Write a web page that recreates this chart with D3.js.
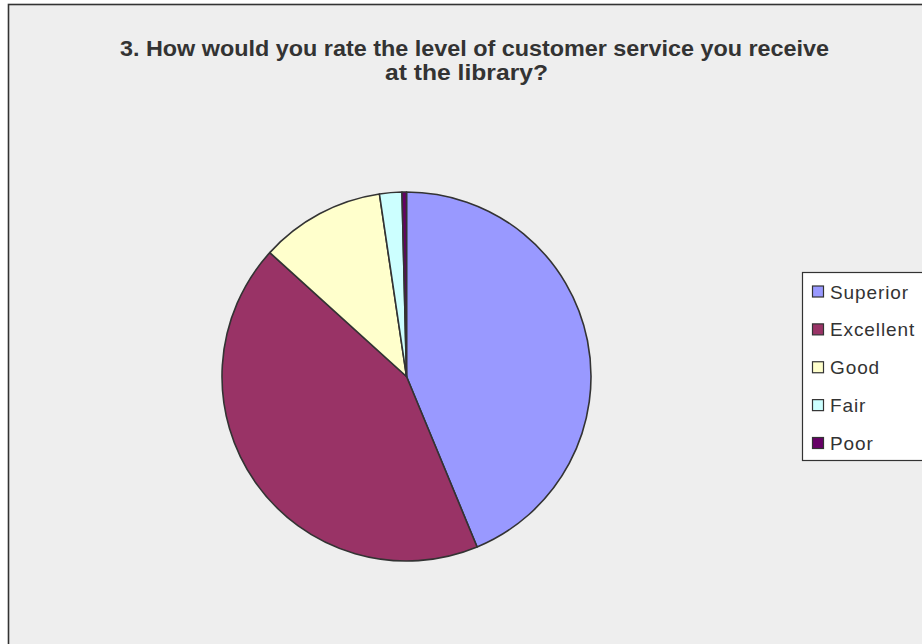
<!DOCTYPE html>
<html>
<head>
<meta charset="utf-8">
<script src="https://cdn.jsdelivr.net/npm/d3@7"></script>
<style>
  html, body { margin: 0; padding: 0; background: #ffffff; }
  svg { display: block; }
</style>
</head>
<body>
<svg id="chart" width="922" height="644"></svg>
<script>
// Survey responses for question 3
const categories = ["Superior", "Excellent", "Good", "Fair", "Poor"];
const responses = [112, 110, 28, 5, 1];
const sliceColors = ["#9999FF", "#993366", "#FFFFCC", "#CCFFFF", "#660066"];
const titleLines = [
  "3. How would you rate the level of customer service you receive",
  "at the library?"
];

const svg = d3.select("#chart");
const W = 922, H = 644;

// chart area with border
svg.append("rect")
  .attr("x", 8.5).attr("y", 4.5)
  .attr("width", W + 10).attr("height", H + 10)
  .attr("fill", "#EEEEEE")
  .attr("stroke", "#333333")
  .attr("stroke-width", 1.6);

// title
const title = svg.append("g")
  .attr("font-family", "'Liberation Sans', Arial, sans-serif")
  .attr("font-weight", "bold")
  .attr("font-size", 22)
  .attr("fill", "#333333")
  .attr("text-anchor", "middle");
const titleX = [474.5, 466.5];
const titleY = [56, 80];
const titleW = [709, 163];
titleLines.forEach((t, i) => {
  title.append("text")
    .attr("x", titleX[i]).attr("y", titleY[i])
    .attr("textLength", titleW[i])
    .attr("lengthAdjust", "spacingAndGlyphs")
    .text(t);
});

// pie
const cx = 406.5, cy = 376.5, R = 184.5;
const pie = d3.pie().sort(null).value(d => d)(responses);
const arc = d3.arc().innerRadius(0).outerRadius(R);
const color = d3.scaleOrdinal().domain(categories).range(sliceColors);

svg.append("g")
  .attr("transform", `translate(${cx},${cy})`)
  .selectAll("path")
  .data(pie)
  .join("path")
  .attr("d", arc)
  .attr("fill", (d, i) => color(categories[i]))
  .attr("stroke", "#333333")
  .attr("stroke-width", 1.6)
  .attr("stroke-linejoin", "round");

// legend
const legend = svg.append("g");
legend.append("rect")
  .attr("x", 802.5).attr("y", 272.5)
  .attr("width", 130).attr("height", 188)
  .attr("fill", "#FFFFFF")
  .attr("stroke", "#333333")
  .attr("stroke-width", 1.2);

const ly = d3.scalePoint().domain(categories).range([291.5, 443]);
const items = legend.selectAll("g.item")
  .data(categories)
  .join("g")
  .attr("class", "item")
  .attr("transform", d => `translate(0,${ly(d)})`);
items.append("rect")
  .attr("x", 812.5).attr("y", -5.5)
  .attr("width", 11).attr("height", 11)
  .attr("fill", d => color(d))
  .attr("stroke", "#333333")
  .attr("stroke-width", 1.2);
items.append("text")
  .attr("x", 830).attr("y", 7)
  .attr("font-family", "'Liberation Sans', Arial, sans-serif")
  .attr("font-size", 19)
  .attr("letter-spacing", 0.9)
  .attr("fill", "#333333")
  .text(d => d);
</script>
</body>
</html>
